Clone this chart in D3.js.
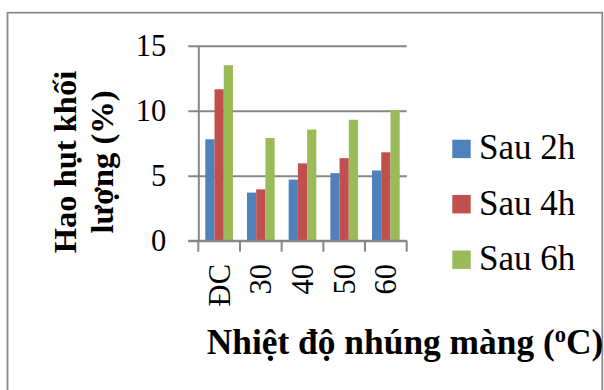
<!DOCTYPE html>
<html>
<head>
<meta charset="utf-8">
<script src="https://cdn.jsdelivr.net/npm/d3@7"></script>
<style>
  html, body { margin: 0; padding: 0; background: #fff; }
  svg { display: block; }
  svg text { font-family: "Liberation Serif", "Times New Roman", serif; }
</style>
</head>
<body>
<svg id="chart" width="604" height="390"></svg>
<script>
// Mass loss (%) after dipping the coating at different temperatures
const categories = ["ĐC", "30", "40", "50", "60"];
const seriesNames = ["Sau 2h", "Sau 4h", "Sau 6h"];
const sau2h = [7.8, 3.7, 4.7, 5.2, 5.4];
const sau4h = [11.65, 3.95, 5.95, 6.35, 6.8];
const sau6h = [13.5, 7.9, 8.55, 9.3, 10.05];
const yTicks = [0, 5, 10, 15];
const colors = ["#4F81BD", "#C0504D", "#9BBB59"];

const FONT = "Liberation Serif, Times New Roman, serif";
const seriesValues = [sau2h, sau4h, sau6h];
const rows = categories.map((c, i) => ({
  cat: c,
  vals: seriesNames.map((s, j) => ({ key: s, value: seriesValues[j][i] }))
}));

const svg = d3.select("#chart");
const plot = { left: 198.3, right: 406.7, top: 45.7, bottom: 240.7 };
const gridColor = "#878787";

// outer frame
svg.append("rect")
  .attr("x", 7.5).attr("y", 12.7)
  .attr("width", 594.8).attr("height", 390)
  .attr("fill", "none").attr("stroke", "#8a8a8a").attr("stroke-width", 1.8);

const x0 = d3.scaleBand().domain(categories).range([plot.left, plot.right]).padding(0);
const bw = x0.bandwidth();
const x1 = d3.scaleBand().domain(seriesNames).range([bw * 0.168, bw * 0.832]).padding(0);
const y = d3.scaleLinear().domain([0, 15]).range([plot.bottom, plot.top]);
const color = d3.scaleOrdinal().domain(seriesNames).range(colors);

// horizontal gridlines (extending past the axis as ticks)
const gy = svg.append("g").attr("transform", `translate(${plot.right},0)`);
gy.call(d3.axisLeft(y).tickValues(yTicks).tickSize(plot.right - plot.left + 10).tickFormat(""));
gy.select(".domain").remove();
gy.selectAll(".tick line").attr("stroke", gridColor).attr("stroke-width", 2);

// y axis line and labels
const gyl = svg.append("g").attr("transform", `translate(${plot.left},0)`);
gyl.call(d3.axisLeft(y).tickValues(yTicks).tickSize(0).tickPadding(32));
gyl.attr("font-family", FONT);
gyl.select(".domain").attr("stroke", gridColor).attr("stroke-width", 2);
gyl.selectAll(".tick text")
  .attr("font-family", FONT)
  .attr("font-size", 30.5).attr("fill", "#000");

// bars
const groups = svg.append("g").selectAll("g").data(rows).join("g")
  .attr("transform", d => `translate(${x0(d.cat)},0)`);
groups.selectAll("rect").data(d => d.vals).join("rect")
  .attr("x", d => x1(d.key))
  .attr("y", d => y(d.value))
  .attr("width", x1.bandwidth())
  .attr("height", d => y(0) - y(d.value))
  .attr("fill", d => color(d.key));

// x axis with ticks at category boundaries
const gx = svg.append("g").attr("transform", `translate(0,${plot.bottom})`);
gx.append("line")
  .attr("x1", plot.left - 10).attr("x2", plot.right)
  .attr("stroke", gridColor).attr("stroke-width", 2);
const bounds = categories.map(c => x0(c)).concat([plot.right]);
gx.selectAll("line.tk").data(bounds).join("line").attr("class", "tk")
  .attr("x1", d => d).attr("x2", d => d)
  .attr("y1", 0).attr("y2", 11)
  .attr("stroke", gridColor).attr("stroke-width", 2);
gx.selectAll("text").data(categories).join("text")
  .attr("transform", d => `translate(${x0(d) + bw / 2},${264 - plot.bottom}) rotate(-90)`)
  .attr("text-anchor", "end")
  .attr("dy", "0.34em")
  .attr("font-family", FONT)
  .attr("font-size", 30.5)
  .attr("fill", "#000")
  .text(d => d);

// x axis title
const xt = svg.append("text")
  .attr("x", 206.7).attr("y", 353.5)
  .attr("font-family", FONT)
  .attr("font-size", 35.4).attr("font-weight", "bold").attr("fill", "#000");
xt.append("tspan").text("Nhiệt độ nhúng màng (");
xt.append("tspan").attr("dy", -12).attr("font-size", 22.5).text("o");
xt.append("tspan").attr("dy", 12).text("C)");

// y axis title, two lines
const yt = svg.append("text")
  .attr("transform", "translate(0,162) rotate(-90)")
  .attr("text-anchor", "middle")
  .attr("font-family", FONT)
  .attr("font-size", 32.5).attr("font-weight", "bold").attr("fill", "#000");
yt.append("tspan").attr("x", 0).attr("y", 75.5).text("Hao hụt khối");
yt.append("tspan").attr("x", 0).attr("y", 112.5).text("lượng (%)");

// legend
const legendY = [148.7, 204, 259.5];
const lg = svg.append("g").selectAll("g").data(seriesNames).join("g")
  .attr("transform", (d, i) => `translate(452.3,${legendY[i]})`);
lg.append("rect").attr("x", 0).attr("y", -9).attr("width", 18.4).attr("height", 18.4)
  .attr("fill", d => color(d));
lg.append("text").attr("x", 26.7).attr("y", 10.5)
  .attr("font-family", FONT)
  .attr("font-size", 35).attr("fill", "#000")
  .text(d => d);
</script>
</body>
</html>
